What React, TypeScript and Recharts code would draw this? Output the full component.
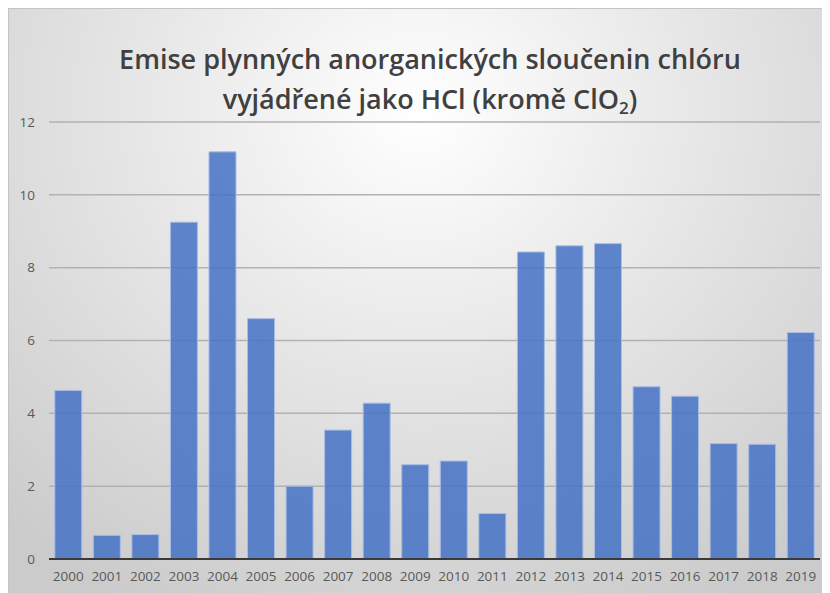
import { BarChart, Bar, XAxis, YAxis, CartesianGrid } from "recharts";

const years = [
  "2000", "2001", "2002", "2003", "2004", "2005", "2006", "2007", "2008", "2009",
  "2010", "2011", "2012", "2013", "2014", "2015", "2016", "2017", "2018", "2019",
];
const emissions = [
  4.63, 0.65, 0.67, 9.25, 11.18, 6.6, 2.0, 3.54, 4.28, 2.59,
  2.69, 1.25, 8.43, 8.6, 8.66, 4.73, 4.47, 3.17, 3.15, 6.22,
];
const yTicks = [0, 2, 4, 6, 8, 10, 12];

const data = years.map((year, i) => ({ year, value: emissions[i] }));

const tickStyle = { fontSize: 13.5, fill: "#595959", fontFamily: "Open Sans" };

export default function App() {
  return (
    <div
      style={{
        position: "relative",
        width: 822,
        height: 585,
        boxSizing: "border-box",
        borderTop: "1px solid #c4c4c4",
        borderLeft: "1px solid #c4c4c4",
        background:
          "radial-gradient(ellipse 75% 95% at 50% 18%, #ffffff 0%, #e7e7e7 45%, #d5d5d5 80%, #cbcbcb 100%)",
      }}
    >
      <div
        style={{
          position: "absolute",
          left: 20,
          top: 30,
          width: 802,
          textAlign: "center",
          fontFamily: "Open Sans",
          fontWeight: 600,
          fontSize: 27,
          lineHeight: "40px",
          color: "#404040",
        }}
      >
        <div>Emise plynných anorganických sloučenin chlóru</div>
        <div>
          vyjádřené jako HCl (kromě ClO
          <sub style={{ fontSize: 17, verticalAlign: "-5px" }}>2</sub>)
        </div>
      </div>
      <BarChart
        width={822}
        height={585}
        data={data}
        margin={{ top: 113, right: 11, bottom: 5, left: 0 }}
        barCategoryGap="15%"
      >
        <CartesianGrid vertical={false} stroke="#b2b2b2" strokeWidth={1.5} />
        <XAxis
          dataKey="year"
          height={30}
          tickLine={false}
          axisLine={{ stroke: "#3a3a3a", strokeWidth: 2 }}
          tick={tickStyle}
          tickMargin={6}
          interval={0}
        />
        <YAxis
          width={40}
          domain={[0, 12]}
          ticks={yTicks}
          tickLine={false}
          axisLine={false}
          tick={tickStyle}
          tickMargin={8}
        />
        <Bar
          dataKey="value"
          fill="#4472C4"
          fillOpacity={0.85}
          stroke="#a9bde4"
          strokeWidth={1}
          isAnimationActive={false}
        />
      </BarChart>
    </div>
  );
}
